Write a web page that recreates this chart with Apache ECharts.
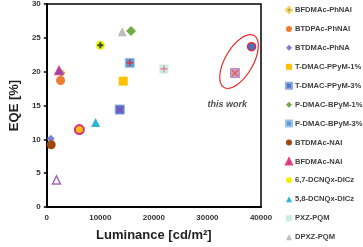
<!DOCTYPE html>
<html><head><meta charset="utf-8">
<script src="https://cdn.jsdelivr.net/npm/echarts@6/dist/echarts.min.js"></script>
<style>html,body{margin:0;padding:0;background:#fff}#c{width:363px;height:247px}</style>
</head><body><div id="c"></div>
<script>
// ---- data ----
const xAxisRange = [0, 40000];
const yAxisRange = [0, 30];
const legendNames = ['BFDMAc-PhNAI','BTDPAc-PhNAI','BTDMAc-PhNA','T-DMAC-PPyM-1%','T-DMAC-PPyM-3%','P-DMAC-BPyM-1%','P-DMAC-BPyM-3%','BTDMAc-NAI','BFDMAc-NAI','6,7-DCNQx-DICz','5,8-DCNQx-DICz','PXZ-PQM','DPXZ-PQM'];
const bfdmacPhNAI = [[2750, 19.8]];
const btdpacPhNAI = [[2570, 18.7]];
const btdmacPhNA = [[750, 10.1]];
const tdmac1 = [[14270, 18.6]];
const tdmac3 = [[13620, 14.4]];
const pdmac1 = [[15730, 26.0]];
const pdmac3 = [[15490, 21.3]];
const btdmacNAI = [[820, 9.2]];
const bfdmacNAI = [[2280, 20.2]];
const dcnqx67 = [[10000, 23.9]];
const dcnqx58 = [[9120, 12.5]];
const pxzPQM = [[21870, 20.4]];
const dpxzPQM = [[14090, 25.9]];
const otherRing = [[6080, 11.45]];
const otherHollowTri = [[1810, 4.0]];
const thisWorkSquare = [[35140, 19.8]];
const thisWorkCircle = [[38240, 23.7]];
const thisWorkLabel = 'this work';
const thisWorkLabelPos = [33700, 15.1];
const ellipseCenter = [35900, 21.5];

// ---- styles ----
const PLUS = 'path://M5,0L5,10M0,5L10,5';
const CROSS = 'path://M0,0L10,10M10,0L0,10';
function base(name, data, symbol, size, color, border, bw) {
  return {type:'scatter', name, data, symbol, symbolSize:size,
    itemStyle:{color, borderColor:border||color, borderWidth:bw||0, opacity:1}, z:2};
}
function overlay(data, symbol, size, color, bw) {
  return {type:'scatter', data, symbol, symbolSize:size, silent:true,
    itemStyle:{color:'rgba(0,0,0,0)', borderColor:color, borderWidth:bw||1.2, opacity:1}, z:3};
}
const series = [
  base('BFDMAc-PhNAI', bfdmacPhNAI, 'diamond', 8, '#6f9fd8', '#ffd54a', 1),
  base('BTDPAc-PhNAI', btdpacPhNAI, 'circle', 9, '#ed7d31'),
  base('BTDMAc-PhNA', btdmacPhNA, 'diamond', 8, '#7b7fd6'),
  base('T-DMAC-PPyM-1%', tdmac1, 'rect', 9, '#ffc000'),
  base('T-DMAC-PPyM-3%', tdmac3, 'rect', 9, '#4f74cf', '#8ea9db', 1),
  overlay(tdmac3, CROSS, 6, '#9b3fb5', 1.2),
  base('P-DMAC-BPyM-1%', pdmac1, 'diamond', 10, '#70ad47'),
  base('P-DMAC-BPyM-3%', pdmac3, 'rect', 9, '#5b9bd5', '#9dc3e6', 1),
  overlay(pdmac3, PLUS, 7, '#e8283c', 1.4),
  base('BTDMAc-NAI', btdmacNAI, 'circle', 9, '#9e480e'),
  base('BFDMAc-NAI', bfdmacNAI, 'triangle', 9, '#a043a8', '#e8407f', 1),
  base('6,7-DCNQx-DICz', dcnqx67, 'circle', 9, '#f2f200'),
  overlay(dcnqx67, PLUS, 6, '#2e4e3e', 2),
  base('5,8-DCNQx-DICz', dcnqx58, 'triangle', 9, '#2ab4d6'),
  base('PXZ-PQM', pxzPQM, 'rect', 9, '#c6efdc'),
  overlay(pxzPQM, PLUS, 7, '#ef6fa4', 1.2),
  base('DPXZ-PQM', dpxzPQM, 'triangle', 9, '#bdbdbd'),
  base('ring', otherRing, 'circle', 9, '#ffc000', '#d6308a', 2),
  base('hollow', otherHollowTri, 'triangle', 8, '#ffffff', '#9b6bb4', 1.5),
  base('tw-square', thisWorkSquare, 'rect', 9, '#c9a0dc', '#b48cc8', 1),
  overlay(thisWorkSquare, CROSS, 6, '#f05a28', 1.2),
  base('tw-circle', thisWorkCircle, 'circle', 8, '#4472c4', '#e8283c', 1.5),
  {type:'scatter', data:[thisWorkLabelPos], symbolSize:0, silent:true,
   label:{show:true, position:'inside', formatter:thisWorkLabel, fontStyle:'italic', fontWeight:'bold',
     fontSize:9, color:'#222', fontFamily:'Liberation Sans'}}
];

const chart = echarts.init(document.getElementById('c'), null, {renderer:'canvas'});
const axisLabel = {fontSize:8, fontWeight:'bold', color:'#333', fontFamily:'Liberation Sans', formatter:v=>String(v)};
chart.setOption({
  animation:false,
  textStyle:{fontFamily:'Liberation Sans'},
  grid:{left:33, right:102, top:4, bottom:36, show:true, borderColor:'#000', borderWidth:1.5, backgroundColor:'transparent'},
  xAxis:{type:'value', min:xAxisRange[0], max:xAxisRange[1], interval:10000,
    name:'Luminance [cd/m²]', nameLocation:'middle', nameGap:22,
    nameTextStyle:{fontSize:13, fontWeight:'bold', color:'#222', fontFamily:'Liberation Sans'},
    axisLine:{lineStyle:{color:'#000', width:2}}, axisTick:{show:false},
    splitLine:{show:false}, axisLabel:Object.assign({margin:7}, axisLabel)},
  yAxis:{type:'value', min:yAxisRange[0], max:yAxisRange[1], interval:5,
    name:'EQE [%]', nameLocation:'middle', nameGap:19,
    nameTextStyle:{fontSize:13, fontWeight:'bold', color:'#222', fontFamily:'Liberation Sans'},
    axisLine:{lineStyle:{color:'#000', width:2}}, axisTick:{show:true, length:3, lineStyle:{color:'#000', width:1.5}},
    splitLine:{show:false}, axisLabel:Object.assign({margin:6}, axisLabel)},
  legend:{data:legendNames, orient:'vertical', left:283, top:4, padding:[2,0,0,2], itemWidth:6, itemHeight:6, itemGap:10.93,
    selectedMode:false,
    textStyle:{fontSize:7.6, fontWeight:'bold', color:'#404040', lineHeight:8, padding:[0,0,0,-2], fontFamily:'Liberation Sans'}},
  series
});
const c = chart.convertToPixel({gridIndex:0}, ellipseCenter);
chart.setOption({graphic:[{type:'ellipse', x:c[0], y:c[1], rotation:Math.PI/3,
  shape:{cx:0, cy:0, rx:30, ry:14}, style:{fill:'none', stroke:'#ee2a2a', lineWidth:1.2}, z:10}]});
</script></body></html>
